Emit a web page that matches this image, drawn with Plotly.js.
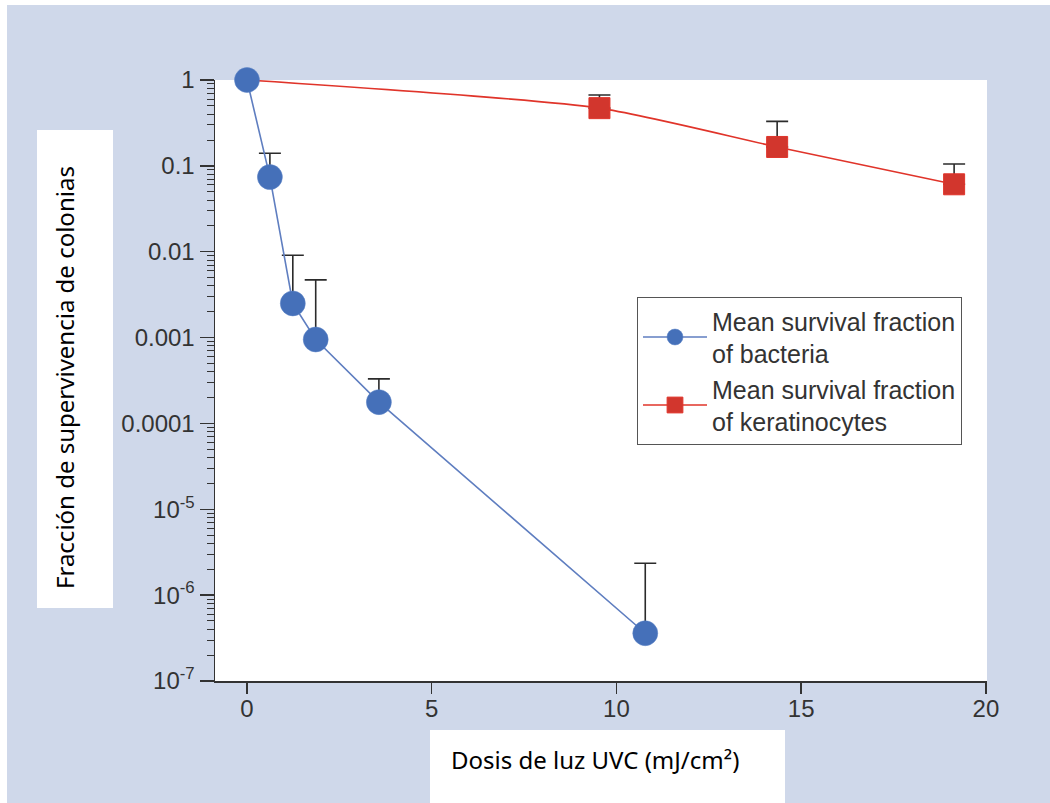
<!DOCTYPE html>
<html>
<head>
<meta charset="utf-8">
<script src="https://cdn.plot.ly/plotly-3.0.1.min.js"></script>
<style>html,body{margin:0;padding:0;background:#fff;}#chart{width:1050px;height:803px;}</style>
</head>
<body>
<div id="chart"></div>
<script>
// Data
const bacteriaDose = [0, 0.62, 1.24, 1.86, 3.57, 10.78];
const bacteriaSurvival = [1, 0.074, 0.0025, 0.00095, 0.000177, 3.6e-7];
const bacteriaUpper = [1, 0.14, 0.0091, 0.0047, 0.00033, 2.35e-6];

const keratDose = [0, 9.54, 14.35, 19.14];
const keratSurvival = [1, 0.47, 0.166, 0.061];
const keratUpper = [1, 0.67, 0.33, 0.105];

const xTicks = [0, 5, 10, 15, 20];
const yTickVals = [1, 0.1, 0.01, 0.001, 0.0001, 1e-5, 1e-6, 1e-7];
const yTickText = ['1', '0.1', '0.01', '0.001', '0.0001', '10<sup>-5</sup>', '10<sup>-6</sup>', '10<sup>-7</sup>'];

const bacteriaName = 'Mean survival fraction<br>of bacteria';
const keratName = 'Mean survival fraction<br>of keratinocytes';
const yTitle = 'Fracción de supervivencia de colonias';
const xTitle = 'Dosis de luz UVC (mJ/cm²)';

const plusErr = (up, v) => up.map((u, i) => u - v[i]);
const zeros = a => a.map(() => 0);

const errStyle = {color: '#2b2b2b', thickness: 1.6, width: 11};

const traces = [
  {
    x: keratDose, y: keratSurvival, name: keratName,
    type: 'scatter', mode: 'lines+markers',
    line: {color: '#e0342a', width: 1.6, shape: 'spline', smoothing: 0.6},
    marker: {symbol: 'square', color: '#d2362d', opacity: 1, size: keratDose.map((d, i) => i === 0 ? 0 : 21)},
    error_y: Object.assign({type: 'data', symmetric: false, array: plusErr(keratUpper, keratSurvival), arrayminus: zeros(keratSurvival)}, errStyle),
    cliponaxis: false, legendrank: 2
  },
  {
    x: bacteriaDose, y: bacteriaSurvival, name: bacteriaName,
    type: 'scatter', mode: 'lines+markers',
    line: {color: '#5f7ec0', width: 1.6},
    marker: {symbol: 'circle', color: '#4570b9', size: 25, line: {color: '#5a82c6', width: 0.5}},
    error_y: Object.assign({type: 'data', symmetric: false, array: plusErr(bacteriaUpper, bacteriaSurvival), arrayminus: zeros(bacteriaSurvival)}, errStyle),
    cliponaxis: false, legendrank: 1
  }
];

// pixel -> paper helpers (plot area: x 215..987, y 80..681)
const L = 215, R = 987, T = 80, B = 681;
const px = v => (v - L) / (R - L);
const py = v => (B - v) / (B - T);

const layout = {
  width: 1050, height: 803,
  margin: {l: L, r: 1050 - R, t: T, b: 803 - B, pad: 0},
  paper_bgcolor: '#cfd8ea',
  plot_bgcolor: '#ffffff',
  font: {family: 'Liberation Sans, Arial, sans-serif', color: '#333333'},
  showlegend: true,
  legend: {
    x: px(637), y: py(297), xanchor: 'left', yanchor: 'top',
    bgcolor: '#ffffff', bordercolor: '#555555', borderwidth: 1,
    font: {size: 25, color: '#333333'},
    itemwidth: 64, tracegroupgap: 0
  },
  xaxis: {
    range: [-0.866, 20.03], tickvals: xTicks, ticks: 'outside', ticklen: 11, tickwidth: 1.5, tickcolor: '#333333',
    showline: true, linecolor: '#333333', linewidth: 1.5, showgrid: false, zeroline: false,
    tickfont: {size: 24, color: '#333333'}, ticklabelstandoff: -5, fixedrange: true
  },
  yaxis: {
    type: 'log', range: [-7, 0], tickvals: yTickVals, ticktext: yTickText,
    ticks: 'outside', ticklen: 14, tickwidth: 1.5, tickcolor: '#333333',
    minor: {ticks: 'outside', ticklen: 7, tickwidth: 1, tickcolor: '#333333', dtick: 'D1', showgrid: false},
    showline: true, linecolor: '#333333', linewidth: 1.5, showgrid: false, zeroline: false,
    tickfont: {size: 24, color: '#333333'}, ticklabelstandoff: 0
  },
  shapes: [
    {type: 'rect', xref: 'paper', yref: 'paper', layer: 'below', x0: px(0), x1: px(1050), y0: py(0), y1: py(5), fillcolor: '#ffffff', line: {width: 0}},
    {type: 'rect', xref: 'paper', yref: 'paper', layer: 'below', x0: px(0), x1: px(7), y0: py(0), y1: py(803), fillcolor: '#ffffff', line: {width: 0}},
    {type: 'rect', xref: 'paper', yref: 'paper', layer: 'below', x0: px(37), x1: px(113), y0: py(130), y1: py(608), fillcolor: '#ffffff', line: {width: 0}},
    {type: 'rect', xref: 'paper', yref: 'paper', layer: 'below', x0: px(430), x1: px(785), y0: py(730), y1: py(803), fillcolor: '#ffffff', line: {width: 0}}
  ],
  annotations: [
    {xref: 'paper', yref: 'paper', x: px(64), y: py(378), text: yTitle, textangle: -90, showarrow: false,
     xanchor: 'center', yanchor: 'middle', font: {family: 'Noto Sans, sans-serif', size: 24, color: '#000000'}},
    {xref: 'paper', yref: 'paper', x: px(595), y: py(760), text: xTitle, showarrow: false,
     xanchor: 'center', yanchor: 'middle', font: {family: 'Noto Sans, sans-serif', size: 24, color: '#000000'}}
  ]
};

Plotly.newPlot('chart', traces, layout, {displayModeBar: false, staticPlot: true});
</script>
</body>
</html>
